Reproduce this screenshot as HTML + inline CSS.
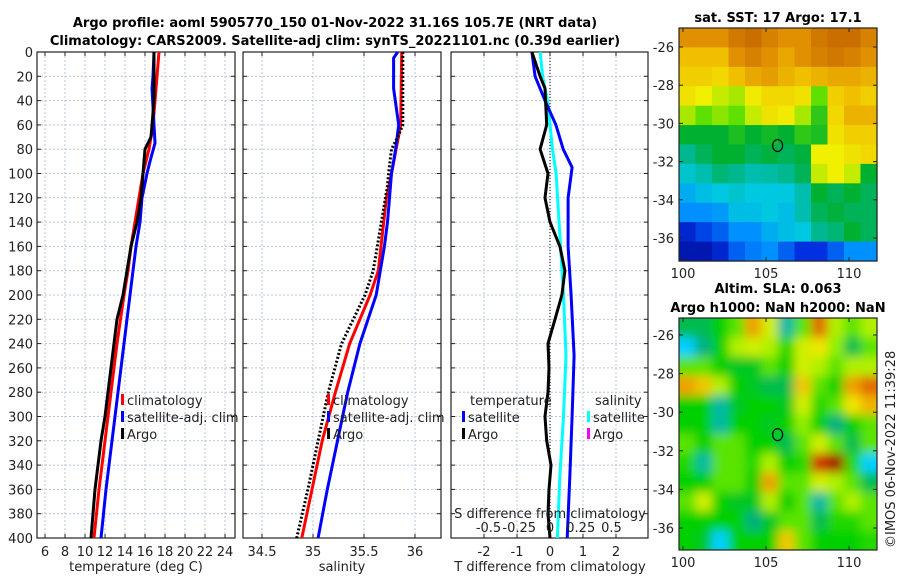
<!DOCTYPE html>
<html><head><meta charset="utf-8">
<style>
html,body{margin:0;padding:0;background:#fff;}
svg{display:block;font-family:"DejaVu Sans","Liberation Sans",sans-serif;}
</style></head>
<body>
<svg id="c" width="900" height="580" viewBox="0 0 900 580" xmlns="http://www.w3.org/2000/svg">
<defs>
<filter id="blur" x="0" y="0" width="1" height="1"><feGaussianBlur stdDeviation="5"/></filter>
<clipPath id="clip2"><rect x="679" y="318" width="198" height="232"/></clipPath>
</defs>
<text x="335" y="27" text-anchor="middle" font-size="13" font-weight="bold">Argo profile: aoml 5905770_150 01-Nov-2022 31.16S 105.7E (NRT data)</text>
<text x="335" y="45" text-anchor="middle" font-size="13" font-weight="bold">Climatology: CARS2009. Satellite-adj clim: synTS_20221101.nc (0.39d earlier)</text>
<text x="778" y="22" text-anchor="middle" font-size="13" font-weight="bold">sat. SST: 17 Argo: 17.1</text>
<text x="778" y="293" text-anchor="middle" font-size="13" font-weight="bold">Altim. SLA: 0.063</text>
<text x="778" y="312" text-anchor="middle" font-size="13" font-weight="bold">Argo h1000: NaN h2000: NaN</text>
<text transform="translate(895,548) rotate(-90)" font-size="13" fill="#222">©IMOS 06-Nov-2022 11:39:28</text>
</svg>
<script>
// ---- data ----
const depthTicks=[0,20,40,60,80,100,120,140,160,180,200,220,240,260,280,300,320,340,360,380,400];
const tempTicks=[6,8,10,12,14,16,18,20,22,24];
const salTicks=[34.5,35,35.5,36];
const tdiffTicks=[-2,-1,0,1,2];
const sdiffTicks=[-0.5,-0.25,0,0.25,0.5];
const sdiffTickLabels=["-0.5","-0.25","0","0.25","0.5"];
const climTDepth=[0,20,40,60,80,100,120,140,160,180,200,240,280,320,360,400];
const climT=[17.4,17.2,17.0,16.8,16.4,15.8,15.4,15.0,14.6,14.3,13.9,13.2,12.6,12.0,11.4,10.9];
const satTDepth=[0,20,30,60,75,90,100,120,140,160,180,200,240,280,320,360,400];
const satT=[16.9,16.8,16.7,16.9,17.0,16.5,16.2,15.7,15.5,15.1,14.8,14.5,13.9,13.3,12.7,12.1,11.6];
const argoTDepth=[0,40,60,70,80,100,120,140,160,180,200,220,240,260,280,300,320,340,360,380,400];
const argoT=[16.9,16.9,16.7,16.6,16.0,15.8,15.6,15.2,14.6,14.2,13.8,13.2,12.9,12.6,12.3,12.0,11.6,11.3,11.0,10.8,10.6];
const climSDepth=[0,60,100,120,180,200,240,280,320,360,400];
const climS=[35.87,35.86,35.77,35.72,35.64,35.56,35.36,35.22,35.09,34.99,34.89];
const satSDepth=[0,5,30,60,80,100,140,160,180,200,240,280,320,360,400];
const satS=[35.83,35.79,35.79,35.84,35.81,35.77,35.73,35.70,35.66,35.62,35.46,35.34,35.24,35.14,35.05];
const argoSDepth=[0,60,70,80,100,110,180,200,240,280,320,360,400];
const argoS=[35.88,35.88,35.83,35.77,35.74,35.73,35.59,35.51,35.28,35.15,35.05,34.95,34.84];
const satTdiffDepth=[0,20,40,60,80,95,120,160,200,250,300,350,400];
const satTdiff=[-0.55,-0.45,-0.15,0.18,0.4,0.67,0.55,0.55,0.64,0.73,0.67,0.6,0.52];
const argoTdiffDepth=[0,20,30,60,80,100,120,140,160,180,200,220,240,260,280,300,320,340,360,380,400];
const argoTdiff=[-0.55,-0.3,-0.15,-0.1,-0.3,-0.06,-0.15,0,0.3,0.45,0.36,0.15,-0.06,-0.03,-0.06,-0.15,-0.1,0.03,-0.03,-0.06,0];
const satSdiffDepth=[0,20,40,60,80,100,150,200,250,300,350,400];
const satSdiff=[-0.08,-0.06,-0.02,0,0.02,0.05,0.08,0.11,0.13,0.11,0.08,0.06];
const lonTicks=[100,105,110];
const latTicks=[-26,-28,-30,-32,-34,-36];
const sstGrid=[
[.85,.85,.85,.9,.92,.88,.85,.85,.9,.92,.92,.88],
[.75,.75,.75,.85,.88,.85,.8,.85,.88,.9,.88,.85],
[.72,.72,.7,.75,.8,.82,.78,.75,.78,.8,.8,.78],
[.68,.65,.62,.6,.66,.7,.7,.68,.55,.72,.75,.72],
[.6,.55,.58,.55,.62,.68,.66,.6,.5,.7,.78,.78],
[.45,.45,.45,.48,.45,.47,.45,.5,.48,.68,.72,.72],
[.38,.42,.45,.45,.42,.44,.42,.44,.65,.65,.68,.7],
[.32,.35,.4,.38,.35,.36,.38,.42,.62,.65,.62,.45],
[.25,.28,.3,.32,.3,.3,.3,.35,.45,.42,.45,.42],
[.2,.2,.22,.28,.28,.3,.28,.35,.42,.44,.42,.42],
[.08,.12,.15,.2,.2,.25,.28,.3,.38,.4,.45,.42],
[.05,.05,.08,.15,.18,.2,.15,.1,.1,.15,.2,.2]];
const slaGrid=[
[.45,.45,.5,.55,.72,.62,.4,.55,.78,.6,.55,.6],
[.35,.42,.5,.6,.62,.6,.52,.62,.65,.58,.45,.55],
[.55,.55,.5,.48,.48,.55,.5,.62,.6,.55,.6,.6],
[.72,.68,.6,.5,.48,.45,.45,.68,.55,.5,.72,.78],
[.5,.5,.4,.48,.5,.5,.48,.62,.52,.55,.65,.7],
[.5,.5,.4,.5,.5,.48,.5,.58,.5,.42,.5,.55],
[.55,.5,.55,.55,.5,.5,.45,.55,.62,.55,.45,.55],
[.52,.4,.55,.55,.52,.6,.5,.52,.85,.92,.52,.35],
[.5,.5,.55,.55,.5,.72,.55,.55,.62,.6,.55,.45],
[.55,.62,.5,.48,.48,.6,.5,.55,.4,.55,.6,.55],
[.5,.5,.5,.5,.42,.48,.55,.55,.45,.52,.52,.55],
[.5,.48,.35,.5,.5,.5,.68,.55,.5,.5,.5,.52]];
const argoLon=105.7, argoLat=-31.16;

const sstStops=[[0,'#000080'],[0.1,'#0030e0'],[0.2,'#0090ff'],[0.3,'#00c8e0'],[0.38,'#00b890'],[0.45,'#00b030'],[0.55,'#60e000'],[0.65,'#f0f000'],[0.75,'#f0c000'],[0.85,'#e09000'],[0.95,'#c06000'],[1,'#b05000']];
const slaStops=[[0,'#00d0ff'],[0.35,'#00d0ff'],[0.42,'#00b080'],[0.5,'#00d000'],[0.58,'#90f000'],[0.64,'#f0f000'],[0.72,'#f0a000'],[0.85,'#d03000'],[0.95,'#900000'],[1,'#900000']];

const svg=document.getElementById('c');
const NS='http://www.w3.org/2000/svg';
function mk(tag,attrs,parent){const e=document.createElementNS(NS,tag);for(const k in attrs)e.setAttribute(k,attrs[k]);(parent||svg).appendChild(e);return e;}
const yD=d=>52+d*1.215;
const xT=t=>-15+10*t;
const xS=s=>262+(s-34.5)*102;
const xTd=d=>550+33*d;
const xSd=d=>550+123*d;
const panels=[{x0:37,x1:235,name:'temperature'},{x0:243,x1:441,name:'salinity'},{x0:451,x1:648,name:'difference'}];

function frame(p,xticks,xf,labels,showY){
  const g=mk('g',{});
  
  
  xticks.forEach(v=>{const x=xf(v);const l=mk('line',{x1:x,x2:x,y1:52,y2:538,stroke:'#b8c4e0','stroke-dasharray':'2,2','stroke-width':1},g);
    });
  depthTicks.forEach(d=>{const y=yD(d);const l=mk('line',{x1:p.x0,x2:p.x1,y1:y,y2:y,stroke:'#b8c4e0','stroke-dasharray':'2,2','stroke-width':1},g);
    
    mk('line',{x1:p.x0,x2:p.x0+4,y1:y,y2:y,stroke:'#222'},g);mk('line',{x1:p.x1,x2:p.x1-4,y1:y,y2:y,stroke:'#222'},g);
    if(showY){const t=mk('text',{x:p.x0-4,y:y+5,'text-anchor':'end','font-size':13,fill:'#222'},g);t.textContent=d;
      }});
  xticks.forEach((v,i)=>{const x=xf(v);mk('line',{x1:x,x2:x,y1:538,y2:534,stroke:'#222'},g);mk('line',{x1:x,x2:x,y1:52,y2:56,stroke:'#222'},g);
    if(labels){const t=mk('text',{x:x,y:556,'text-anchor':'middle','font-size':13,fill:'#222'},g);t.textContent=labels[i];
      }});
  mk('rect',{x:p.x0,y:52,width:p.x1-p.x0,height:486,fill:'none',stroke:'#222','stroke-width':1.2},g);
  return g;
}
frame(panels[0],tempTicks,xT,tempTicks.map(String),true);
frame(panels[1],salTicks,xS,salTicks.map(String),false);
frame(panels[2],tdiffTicks,xTd,tdiffTicks.map(String),false);

function line(depths,vals,xf,color,name,dash){
  const pts=depths.map((d,i)=>xf(vals[i]).toFixed(1)+','+yD(d).toFixed(1)).join(' ');
  const a={points:pts,fill:'none',stroke:color,'stroke-width':3,'stroke-linejoin':'round'};
  if(dash)a['stroke-dasharray']=dash;
  const pl=mk('polyline',a);
  
  
}
line(climTDepth,climT,xT,'#ff0000','climatology-temperature-line');
line(satTDepth,satT,xT,'#0000ff','satellite-temperature-line');
line(argoTDepth,argoT,xT,'#000000','argo-temperature-line');
line(climSDepth,climS,xS,'#ff0000','climatology-salinity-line');
line(satSDepth,satS,xS,'#0000ff','satellite-salinity-line');
line(argoSDepth,argoS,xS,'#000000','argo-salinity-line','2,2');
const zl=mk('line',{x1:xTd(0),x2:xTd(0),y1:52,y2:538,stroke:'#000','stroke-dasharray':'1,2','stroke-width':1});

line(satSdiffDepth,satSdiff,xSd,'#00ffff','satellite-salinity-diff-line');
line(satTdiffDepth,satTdiff,xTd,'#0000ff','satellite-temperature-diff-line');
line(argoTdiffDepth,argoTdiff,xTd,'#000000','argo-temperature-diff-line');

sdiffTicks.forEach((v,i)=>{const t=mk('text',{x:xSd(v),y:532,'text-anchor':'middle','font-size':13,fill:'#222'});t.textContent=sdiffTickLabels[i];
  });
function txt(x,y,s,name,anchor,size){const t=mk('text',{x:x,y:y,'text-anchor':anchor||'start','font-size':size||13,fill:'#222'});t.textContent=s;
  return t;}
txt(550,518,'S difference from climatology','s-diff-axis-title','middle');
txt(136,571,'temperature (deg C)','temperature-axis-title','middle');
txt(342,571,'salinity','salinity-axis-title','middle');
txt(550,571,'T difference from climatology','t-diff-axis-title','middle');

function legendEntry(x,y,color,label,name){
  const r=mk('rect',{x:x,y:y-11,width:3,height:11,fill:color});
  
  txt(x+6,y,label,name);
}
[121,327].forEach(x=>legendEntry(x,405,'#ff0000','climatology','legend-climatology'));
[121,327].forEach(x=>legendEntry(x,422,'#0000ff','satellite-adj. clim','legend-satellite-adj-clim'));
[121,327].forEach(x=>legendEntry(x,439,'#000000','Argo','legend-argo'));
txt(470,405,'temperature','legend-temperature-heading');
legendEntry(462,422,'#0000ff','satellite','legend-temperature-satellite');
legendEntry(462,439,'#000000','Argo','legend-temperature-argo');
txt(595,405,'salinity','legend-salinity-heading');
legendEntry(587,422,'#00ffff','satellite','legend-salinity-satellite');
legendEntry(587,439,'#ff00ff','Argo','legend-salinity-argo');

function hex(h){return [parseInt(h.substr(1,2),16),parseInt(h.substr(3,2),16),parseInt(h.substr(5,2),16)];}
function cmap(stops,v){v=Math.max(0,Math.min(1,v));
  for(let i=1;i<stops.length;i++){if(v<=stops[i][0]){const a=stops[i-1],b=stops[i];const f=(v-a[0])/((b[0]-a[0])||1);
    const ca=hex(a[1]),cb=hex(b[1]);return 'rgb('+ca.map((c,k)=>Math.round(c+(cb[k]-c)*f)).join(',')+')';}}
  return stops[stops.length-1][1];}
function map(y0,y1,lat26y,lat36y,grid,stops,name,blur){
  const x0=679,x1=877;
  const lonX=l=>683+(l-100)*16.6;
  const latY=l=>lat26y+(-26-l)*(lat36y-lat26y)/10;
  const g=mk('g',blur?{'clip-path':'url(#clip2)'}:{});
  
  const inner=mk('g',blur?{filter:'url(#blur)'}:{},g);
  const rows=grid.length,cols=grid[0].length;
  const cw=(x1-x0)/cols,ch=(y1-y0)/rows;
  const pad=blur?12:0;
  grid.forEach((row,i)=>row.forEach((v,j)=>{
    let x=x0+j*cw,y=y0+i*ch,w=cw+0.6,h=ch+0.6;
    if(j===0){x-=pad;w+=pad;} if(j===cols-1)w+=pad; if(i===0){y-=pad;h+=pad;} if(i===rows-1)h+=pad;
    const c=mk('rect',{x:x,y:y,width:w,height:h,fill:cmap(stops,v)},inner);
    }));
  mk('rect',{x:x0,y:y0,width:x1-x0,height:y1-y0,fill:'none',stroke:'#222','stroke-width':1.2});
  lonTicks.forEach(l=>{const x=lonX(l);mk('line',{x1:x,x2:x,y1:y1,y2:y1-4,stroke:'#222'});mk('line',{x1:x,x2:x,y1:y0,y2:y0+4,stroke:'#222'});
    txt(x,y1+17,String(l),'longitude-tick-label','middle');});
  latTicks.forEach(l=>{const y=latY(l);mk('line',{x1:x0,x2:x0+4,y1:y,y2:y,stroke:'#222'});mk('line',{x1:x1,x2:x1-4,y1:y,y2:y,stroke:'#222'});
    txt(x0-5,y+5,String(l),'latitude-tick-label','end');});
  const m=mk('ellipse',{cx:lonX(argoLon),cy:latY(argoLat),rx:5,ry:6,fill:'none',stroke:'#000','stroke-width':1.2});
  
}
map(28,261,47,238,sstGrid,sstStops,'sst-map',false);
map(318,550,335,528,slaGrid,slaStops,'sla-map',true);
</script>
</body></html>
